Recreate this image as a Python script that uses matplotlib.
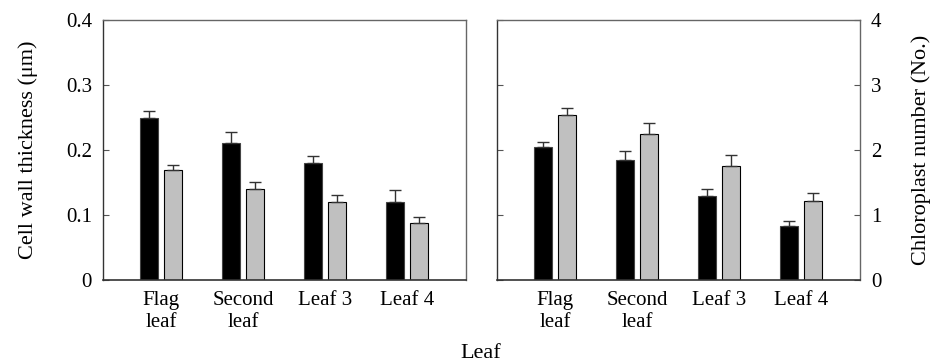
import matplotlib
matplotlib.use("Agg")
import matplotlib.pyplot as plt
import numpy as np

leaves = ["Flag\nleaf", "Second\nleaf", "Leaf 3", "Leaf 4"]

wall_dark = [0.250, 0.211, 0.180, 0.120]
wall_dark_err = [0.010, 0.016, 0.011, 0.018]
wall_light = [0.170, 0.140, 0.120, 0.087]
wall_light_err = [0.007, 0.011, 0.011, 0.010]

chloro_dark = [2.04, 1.84, 1.29, 0.83]
chloro_dark_err = [0.09, 0.14, 0.11, 0.08]
chloro_light = [2.54, 2.25, 1.76, 1.22]
chloro_light_err = [0.11, 0.17, 0.16, 0.12]

plt.rcParams["font.family"] = ["Liberation Serif", "DejaVu Serif"]
plt.rcParams["font.size"] = 15

fig = plt.figure(figsize=(9.34, 3.64), dpi=100)
W, H = 934, 364
ax1 = fig.add_axes([103 / W, 1 - 280 / H, 363 / W, 260 / H])
ax2 = fig.add_axes([497 / W, 1 - 280 / H, 363 / W, 260 / H])

x = np.arange(len(leaves))
bw = 0.22
off = 0.15
err_kw = dict(ecolor="#333333", elinewidth=1.0, capsize=4, capthick=1.0)


def draw(ax, dark, dark_err, light, light_err):
    ax.bar(x - off, dark, bw, color="black", edgecolor="#444444", linewidth=0.8,
           yerr=[np.zeros(len(dark)), dark_err], error_kw=err_kw, zorder=2)
    ax.bar(x + off, light, bw, color="#c0c0c0", edgecolor="black", linewidth=0.8,
           yerr=[np.zeros(len(light)), light_err], error_kw=err_kw, zorder=2)
    ax.set_xlim(-0.71, 3.72)
    ax.set_xticks(x)
    ax.set_xticklabels(leaves, linespacing=1.2, fontsize=15)
    ax.tick_params(axis="x", length=0, pad=8)
    ax.tick_params(axis="y", direction="in", length=4, width=0.8, color="#555555",
                   labelsize=15)
    for side in ["top", "right", "left"]:
        ax.spines[side].set_color("#666666")
        ax.spines[side].set_linewidth(1.0)
    ax.spines["bottom"].set_color("#333333")
    ax.spines["bottom"].set_linewidth(1.2)


draw(ax1, wall_dark, wall_dark_err, wall_light, wall_light_err)
ax1.set_ylim(0, 0.4)
ax1.set_yticks([0, 0.1, 0.2, 0.3, 0.4])
ax1.set_yticklabels(["0", "0.1", "0.2", "0.3", "0.4"])
ax1.tick_params(axis="y", pad=8)
ax1.spines["left"].set_color("#333333")
ax1.set_ylabel("Cell wall thickness (μm)", fontsize=16, labelpad=20)

draw(ax2, chloro_dark, chloro_dark_err, chloro_light, chloro_light_err)
ax2.set_ylim(0, 4)
ax2.set_yticks([0, 1, 2, 3, 4])
ax2.yaxis.tick_right()
ax2.tick_params(axis="y", left=True, right=True, labelleft=False, labelright=True, pad=8)
ax2.yaxis.set_label_position("right")
ax2.spines["left"].set_color("#333333")
ax2.set_ylabel("Chloroplast number (No.)", fontsize=16, labelpad=21)

fig.text(481 / W, 1 - 358 / H, "Leaf", ha="center", va="baseline", fontsize=16)

fig.savefig("out.png", dpi=100, facecolor="white")
